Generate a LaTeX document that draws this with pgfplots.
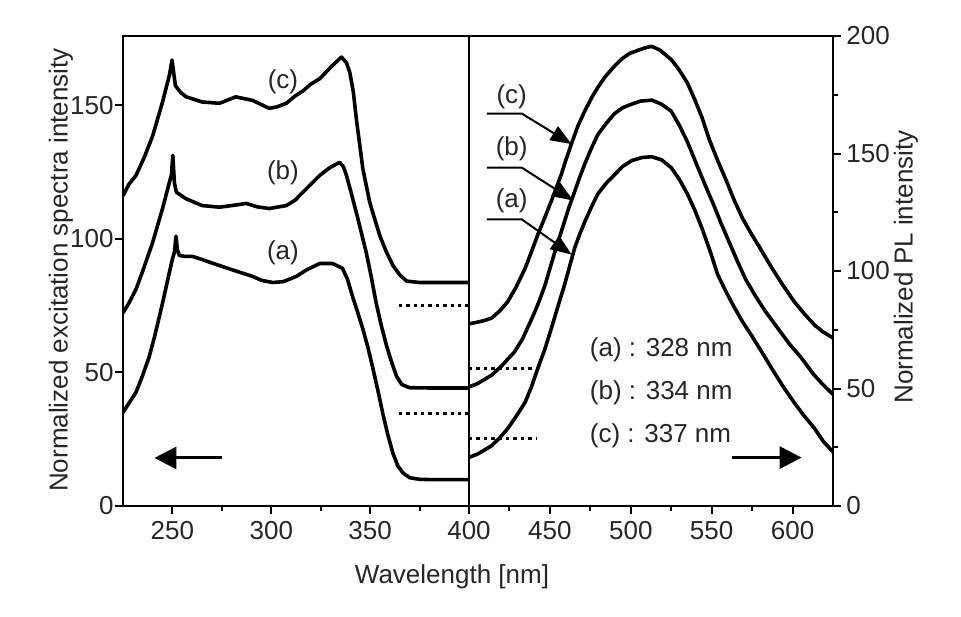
\documentclass[border=0pt]{standalone}
\usepackage{fontspec}
\setmainfont{Liberation Sans}
\usepackage{pgfplots}
\pgfplotsset{compat=1.18}
\usetikzlibrary{arrows.meta}

\definecolor{ink}{gray}{0.15}

\tikzset{
  baseline mark/.style={black, line width=1.5pt, dash pattern=on 1.7pt off 2pt},
  label text/.style={font=\fontsize{13}{15}\selectfont, text=ink},
  pointer/.style={line width=1pt, -{Triangle[length=10.5pt,width=8pt]}},
  direction/.style={line width=1.5pt, -{Triangle[length=11pt,width=11pt]}},
}
\pgfplotsset{
  panel/.style={
    scale only axis, height=235pt, ymin=0,
    axis line style={line width=1.1pt},
    every tick/.style={line width=1pt, black},
    tick align=outside,
    major tick length=4pt, minor tick length=2.5pt,
    /pgf/number format/assume math mode=true,
    tick label style={font=\fontsize{13}{15}\selectfont, text=ink},
    xtick pos=bottom,
  },
  spectrum/.style={black, line width=1.8pt, line join=round, mark=none},
}

\begin{document}
\begin{tikzpicture}
\useasboundingbox (0,0) rectangle (480.5pt,308pt);

% ---------------- excitation spectra (left scale) ----------------
\begin{axis}[panel, at={(61.5pt,55pt)}, anchor=south west, width=173pt,
  xmin=225, xmax=400, ymax=176,
  xtick={250,300,350,400}, minor xtick={275,325,375},
  ytick={0,50,100,150}, ytick pos=left,
  yticklabel style={inner xsep=0.5pt}]

% (a)
\addplot[spectrum] coordinates {
(225,35) (228,38.5) (231.6,42.6) (235,49) (238.3,56) (241,63.5) (245,76)
(248,86) (250,92.5) (251,95) (251.8,101) (252.5,96) (253.5,93.8) (256,93.5)
(260,93.5) (265,92.3) (270,91) (274,90) (280,88.5) (285,87.3) (290.5,86)
(295,84.5) (300.7,83.7) (306,84) (312.7,86) (318,88.5) (324.5,90.8)
(331,90.8) (336,89) (338.5,85) (341,78.7) (343.5,73) (346.3,66.3) (349,59)
(351.4,51.5) (354,43) (356.4,34.6) (359,26.5) (361.5,19.8) (364,15)
(366.6,12.4) (370,10.6) (375,10) (380,9.9) (390,9.9) (400,9.9)};

% (b)
\addplot[spectrum] coordinates {
(225,72.3) (228,76) (231.6,81.2) (235,88) (240,98.7) (245,111.4)
(248.5,121.3) (249.5,124) (250.2,131.3) (251,121) (252,117.5) (257,115)
(265,112.5) (273.8,111.9) (280,112.5) (287.4,113.3) (293,112) (299,111.4)
(307.6,112.5) (312,114.5) (316,117.5) (320,120.5) (324.5,123.8)
(329.6,126.7) (334.6,128.7) (336.5,127) (338,123.8) (340.5,117) (343,109.9)
(345.5,102.5) (348,95) (350.5,86) (353,76.2) (355.5,68) (358.3,60)
(361,53.5) (363.4,48.5) (366,45.5) (370,44.3) (380,44.2) (390,44.2) (400,44.2)};

% (c)
\addplot[spectrum] coordinates {
(225,116.2) (228,120.5) (231.6,123.8) (236,131) (240,138.6) (245,151.3)
(248.5,161.4) (249.8,167) (251.5,157.4) (254,155) (257,153.2) (265,151.3)
(273.8,150.8) (282,153.2) (290.5,151.9) (299,148.9) (303,149.5)
(307.6,150.8) (312,153.5) (316,155.4) (320,158) (324.5,160) (331,165)
(335.5,168.1) (338,166) (339.7,162.4) (341.5,155) (343,145.1)
(346.3,126.3) (349.8,113.7) (352.5,107) (355,101) (358,95.5) (361.5,90.1)
(365,86.5) (368.5,84.2) (375,83.7) (400,83.7)};

\draw[baseline mark] (364.5,75) -- (400,75);
\draw[baseline mark] (364.5,34.7) -- (400,34.7);

\node[label text] at (305.9,158.7) {(c)};
\node[label text] at (305.9,124.7) {(b)};
\node[label text] at (305.9,95) {(a)};

\draw[direction] (275.3,18) -- (240.9,18);
\end{axis}

% ---------------- PL spectra (right scale) ----------------
\begin{axis}[panel, at={(234.5pt,55pt)}, anchor=south west, width=182pt,
  xmin=400, xmax=625, ymax=200,
  xtick={450,500,550,600}, minor xtick={425,475,525,575},
  ytick={0,50,...,200}, minor ytick={25,75,125,175},
  ytick pos=right, yticklabel pos=right,
  yticklabel style={inner xsep=2.5pt}]

% (a)
\addplot[spectrum] coordinates {
(400,20.7) (405,22) (410,24) (414,25.7) (419,29) (424,33) (429,38)
(434.6,44) (438.5,50.5) (442.6,58.7) (447,67) (451,75.8) (455,85) (459,94)
(462,101.5) (465.4,110) (468.5,115.8) (471.6,121) (475.5,127) (479.6,132.8)
(485,137.5) (490,141) (495,144.5) (500.6,147) (507,148.3) (513,148.6)
(519,147.3) (525,144) (530,139) (535,132.8) (539.5,126) (543.8,118.6)
(549,108.5) (553.7,98.5) (559,91) (564,84.5) (569,78.5) (574.7,72.5)
(581,65.5) (587,58.7) (594,51) (601,44) (607,38.5) (613.6,33) (619,27.5)
(625,23)};

% (b)
\addplot[spectrum] coordinates {
(400,50.7) (405,52) (410,54) (414,55.7) (420,59.5) (428,65.5) (433,71)
(439,80) (443,86.5) (447,94) (450,101) (453,108) (456,114.5) (459,121)
(462,127.5) (465.4,134) (468.5,140) (471.6,145.6) (475.5,152) (479.6,158)
(485,163) (490,167) (495,169.5) (500.6,171) (506,172.3) (513,172.7)
(519,171) (525,168) (530,162) (535,155) (540,146.5) (545.7,137) (551,128.5)
(556,120) (561,112) (566,104) (571,96.5) (576.5,90) (583,83) (590.7,75.8)
(598,69) (605.5,63) (613,56) (619,51.5) (625,47.5)};

% (c)
\addplot[spectrum] coordinates {
(400,77.5) (405,78.2) (410,79) (414,80) (419,83) (424,87) (429,93)
(434.6,101) (438.5,108) (442.6,115.6) (447,123) (451,130) (454,135.5)
(457,141) (460,147.5) (463.5,154.5) (467.5,162) (471.5,168) (476,174)
(480,178.5) (484,182.5) (489,186.5) (494,190) (499,192.5) (504,193.8)
(509,195) (513,195.6) (518,194) (525,190) (530,185.5) (535,180) (539.5,173)
(543.8,165.7) (548.5,156) (553.7,147) (559,138.5) (564,130) (569,122.5)
(574.7,115.6) (581,108.5) (587,101.5) (594,94) (601,87) (607,82)
(613.6,77) (619,74) (625,71.5)};

\draw[baseline mark] (400,58.7) -- (442,58.7);
\draw[baseline mark] (400,28.7) -- (442,28.7);

\draw[pointer] (411,167) -- (432.6,167) -- (463.4,154);
\draw[pointer] (411,144) -- (432.6,144) -- (464.4,130);
\draw[pointer] (411,122) -- (432.6,122) -- (463.4,107);
\node[label text] at (426.4,174) {(c)};
\node[label text] at (426.4,152) {(b)};
\node[label text] at (426.4,130) {(a)};

\node[label text, anchor=west] at (470.4,66.4) {(a) : 328 nm};
\node[label text, anchor=west] at (470.4,48) {(b) : 334 nm};
\node[label text, anchor=west] at (470.4,30) {(c) : 337 nm};

\draw[direction] (562.3,20.6) -- (605.6,20.6);
\end{axis}

% axis titles
\node[label text] at (226pt,19.5pt) {Wavelength [nm]};
\node[label text, rotate=90] at (30.5pt,173pt) {Normalized excitation spectra intensity};
\node[label text, rotate=90] at (453pt,174.5pt) {Normalized PL intensity};
\end{tikzpicture}
\end{document}
